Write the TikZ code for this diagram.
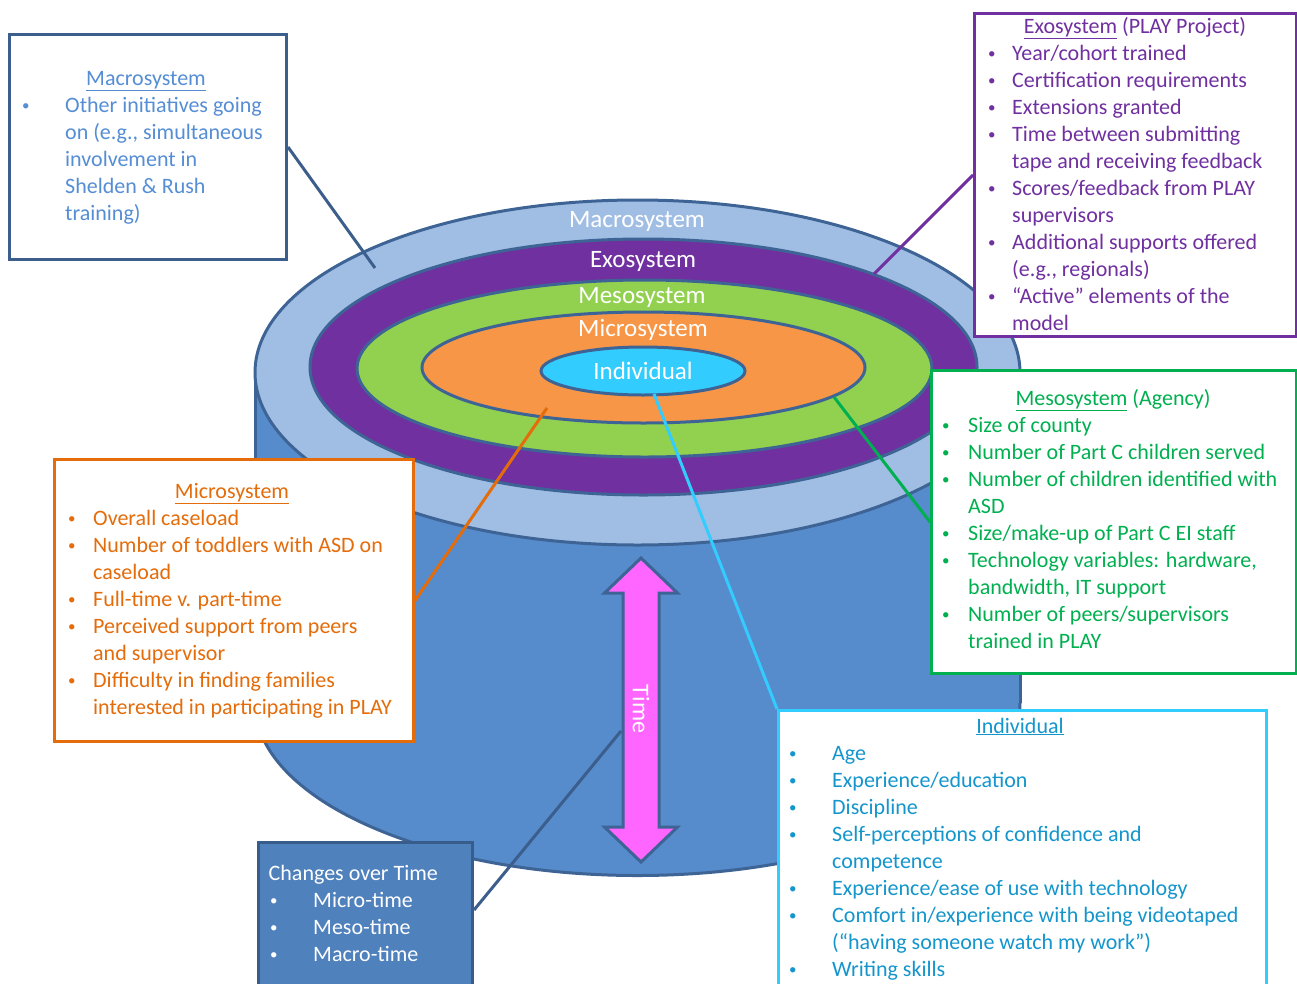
\documentclass[tikz,border=0pt]{standalone}
\usepackage{fontspec}
\setmainfont{Carlito}

\definecolor{ringline}{RGB}{62,100,150}
\definecolor{cylside}{RGB}{86,139,204}
\definecolor{topblue}{RGB}{160,190,228}
\definecolor{exopurple}{RGB}{112,48,160}
\definecolor{mesogreen}{RGB}{146,208,80}
\definecolor{microorange}{RGB}{247,150,70}
\definecolor{indivcyan}{RGB}{51,204,255}
\definecolor{timepink}{RGB}{255,102,255}
\definecolor{macroline}{RGB}{59,94,140}
\definecolor{macrotext}{RGB}{85,142,213}
\definecolor{mesotext}{RGB}{0,176,80}
\definecolor{microtext}{RGB}{228,108,10}
\definecolor{indivtext}{RGB}{20,150,205}
\definecolor{timefill}{RGB}{79,129,189}
\definecolor{timeline}{RGB}{56,93,138}

% bullet line and its continuation
\newcommand{\smallbullet}{\raisebox{1.8pt}{\fontsize{15}{15}\selectfont\textbullet}}
\newcommand{\bitem}[2]{\makebox[#1][l]{\hspace*{1.5pt}\smallbullet}#2}
\newcommand{\bmore}[2]{\hspace*{#1}#2}

\tikzset{
  ring/.style={draw=ringline, line width=3pt},
  ringlabel/.style={anchor=base, inner sep=0pt, text=white, font=\fontsize{25}{30}\selectfont},
  box/.style={draw, line width=3pt, fill=white, anchor=north west, inner sep=0pt},
  boxtitle/.style={anchor=base, inner sep=0pt, font=\fontsize{22}{27}\selectfont},
  boxtext/.style={anchor=north west, inner sep=0pt, align=left, font=\fontsize{22}{27}\selectfont},
  link/.style={line width=3pt},
}

\begin{document}
\begin{tikzpicture}[x=1pt,y=-1pt]
	\useasboundingbox (0,0) rectangle (1297,983);
	\clip (0,0) rectangle (1297,983);
	\fill[white] (0,0) rectangle (1297,983);
%	cylinder body
	\draw[ring, fill=cylside] (637.5,703) ellipse [x radius=382.5, y radius=172.5];
	\fill[cylside] (255,372.5) rectangle (1020,703);
	\draw[ring] (255,372.5) -- (255,703);
	\draw[ring] (1020,372.5) -- (1020,703);
%	top rings
	\draw[ring, fill=topblue] (637.5,372.5) ellipse [x radius=382.5, y radius=172.5];
	\draw[ring, fill=exopurple] (643.5,367) ellipse [x radius=333.5, y radius=128];
	\draw[ring, fill=mesogreen] (644.5,368.5) ellipse [x radius=287.5, y radius=88.5];
	\draw[ring, fill=microorange] (643.5,367.5) ellipse [x radius=221.5, y radius=55.5];
	\draw[ring, fill=indivcyan] (643,371) ellipse [x radius=102, y radius=24];
	\node[ringlabel] (macrolabel) at (637,227) {Macrosystem};
	\node[ringlabel] (exolabel) at (643,267) {Exosystem};
	\node[ringlabel] (mesolabel) at (642,303) {Mesosystem};
	\node[ringlabel] (microlabel) at (643,336) {Microsystem};
	\node[ringlabel] (indivlabel) at (643,379) {Individual};
%	time arrow
	\draw[ring, fill=timepink] (641,558) -- (677.5,593) -- (659,593) -- (659,827) -- (677.5,827) -- (641,862)
		-- (604.5,827) -- (623,827) -- (623,593) -- (604.5,593) -- cycle;
	\node[rotate=-90, text=white, font=\fontsize{24}{28}\selectfont] (timelabel) at (641,709) {Time};
%	ends of the connectors
	\coordinate (macropt) at (375,268);
	\coordinate (exopt) at (874,274);
	\coordinate (mesopt) at (834,397);
	\coordinate (micropt) at (547,408);
	\coordinate (indivpt) at (654,394);
	\coordinate (timept) at (621,731);
%	Macrosystem
	\node[box, draw=macroline, minimum width=277pt, minimum height=225pt] (macro) at (8,33) {};
	\node[boxtitle, text=macrotext] (macrotitle) at (146,85) {\underline{Macrosystem}};
	\node[boxtext, text=macrotext] (macrolist) at (20.5,93.1) {\strut\bitem{44.5pt}{Other initiatives going}\\
		\bmore{44.5pt}{on (e.g., simultaneous}\\ \bmore{44.5pt}{involvement in}\\
		\bmore{44.5pt}{Shelden \& Rush}\\ \bmore{44.5pt}{training)}};
%	Exosystem
	\node[box, draw=exopurple, minimum width=322pt, minimum height=323pt] (exo) at (973,12) {};
	\node[boxtitle, text=exopurple] (exotitle) at (1135,33) {\underline{Exosystem} (PLAY Project)};
	\node[boxtext, text=exopurple] (exolist) at (986.5,41.1) {\strut\bitem{25.5pt}{Year/cohort trained}\\
		\bitem{25.5pt}{Certification requirements}\\ \bitem{25.5pt}{Extensions granted}\\
		\bitem{25.5pt}{Time between submitting}\\ \bmore{25.5pt}{tape and receiving feedback}\\
		\bitem{25.5pt}{Scores/feedback from PLAY}\\ \bmore{25.5pt}{supervisors}\\
		\bitem{25.5pt}{Additional supports offered}\\ \bmore{25.5pt}{(e.g., regionals)}\\
		\bitem{25.5pt}{“Active” elements of the}\\ \bmore{25.5pt}{model}};
%	Mesosystem
	\node[box, draw=mesotext, minimum width=365pt, minimum height=303pt] (meso) at (930,369) {};
	\node[boxtitle, text=mesotext] (mesotitle) at (1113,405) {\underline{Mesosystem} (Agency)};
	\node[boxtext, text=mesotext] (mesolist) at (940.5,413.1) {\strut\bitem{27.5pt}{Size of county}\\
		\bitem{27.5pt}{Number of Part C children served}\\
		\bitem{27.5pt}{Number of children identified with}\\ \bmore{27.5pt}{ASD}\\
		\bitem{27.5pt}{Size/make-up of Part C EI staff}\\
		\bitem{27.5pt}{Technology variables: hardware,}\\ \bmore{27.5pt}{bandwidth, IT support}\\
		\bitem{27.5pt}{Number of peers/supervisors}\\ \bmore{27.5pt}{trained in PLAY}};
%	Microsystem
	\node[box, draw=microtext, minimum width=359pt, minimum height=282pt] (micro) at (53,458) {};
	\node[boxtitle, text=microtext] (microtitle) at (232,498) {\underline{Microsystem}};
	\node[boxtext, text=microtext] (microlist) at (66.5,506.1) {\strut\bitem{26.5pt}{Overall caseload}\\
		\bitem{26.5pt}{Number of toddlers with ASD on}\\ \bmore{26.5pt}{caseload}\\
		\bitem{26.5pt}{Full-time v. part-time}\\
		\bitem{26.5pt}{Perceived support from peers}\\ \bmore{26.5pt}{and supervisor}\\
		\bitem{26.5pt}{Difficulty in finding families}\\ \bmore{26.5pt}{interested in participating in PLAY}};
%	Individual
	\node[box, draw=indivcyan, minimum width=488pt, minimum height=300pt] (indiv) at (777,709) {};
	\node[boxtitle, text=indivtext] (indivtitle) at (1020,733) {\underline{Individual}};
	\node[boxtext, text=indivtext] (indivlist) at (787.5,741.1) {\strut\bitem{44.5pt}{Age}\\
		\bitem{44.5pt}{Experience/education}\\ \bitem{44.5pt}{Discipline}\\
		\bitem{44.5pt}{Self-perceptions of confidence and}\\ \bmore{44.5pt}{competence}\\
		\bitem{44.5pt}{Experience/ease of use with technology}\\
		\bitem{44.5pt}{Comfort in/experience with being videotaped}\\
		\bmore{44.5pt}{(“having someone watch my work”)}\\ \bitem{44.5pt}{Writing skills}};
%	Changes over time
	\node[box, draw=timeline, fill=timefill, minimum width=214pt, minimum height=160pt] (time) at (257,841) {};
	\node[boxtext, text=white] (timelist) at (268.5,861.1) {\strut Changes over Time\\
		\bitem{44.5pt}{Micro-time}\\ \bitem{44.5pt}{Meso-time}\\ \bitem{44.5pt}{Macro-time}};
%	connectors
	\draw[link, macroline] (macro.east) -- (macropt);
	\draw[link, exopurple] (exo.west) -- (exopt);
	\draw[link, mesotext] (mesopt) -- (meso.west);
	\draw[link, microtext] (micropt) -- (micro.east);
	\draw[link, indivcyan] (indivpt) -- (indiv.north west);
	\draw[link, macroline] ([yshift=-69pt]time.north east) -- (timept);
\end{tikzpicture}
\end{document}
